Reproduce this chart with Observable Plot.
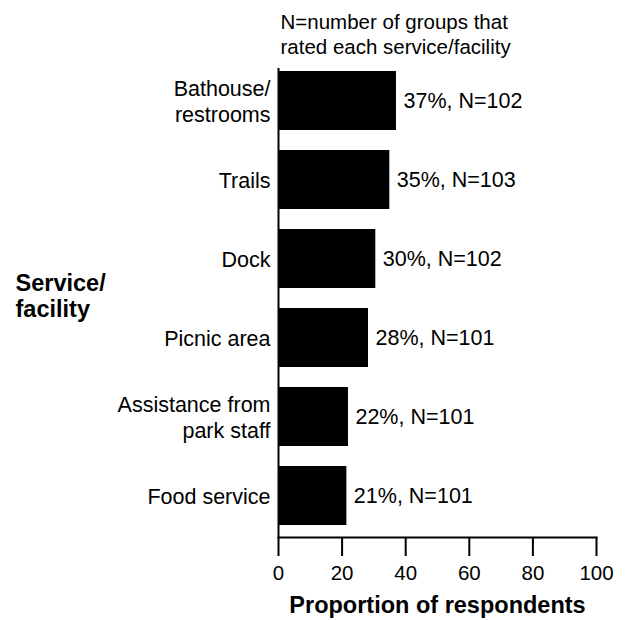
<!DOCTYPE html>
<html><head><meta charset="utf-8">
<script src="https://cdn.jsdelivr.net/npm/d3@7"></script>
<script src="https://cdn.jsdelivr.net/npm/@observablehq/plot@0.6"></script>
<style>body{margin:0;background:#fff}</style>
</head><body><div id="chart"></div>
<script>
const categories = ["Bathouse/\nrestrooms", "Trails", "Dock", "Picnic area", "Assistance from\npark staff", "Food service"];
const proportions = [37.1, 35.0, 30.6, 28.3, 22.0, 21.5];
const percentLabels = ["37%", "35%", "30%", "28%", "22%", "21%"];
const groupCounts = [102, 103, 102, 101, 101, 101];
const xTicks = [0, 20, 40, 60, 80, 100];
const noteText = "N=number of groups that\nrated each service/facility";
const yTitle = "Service/\nfacility";
const xTitle = "Proportion of respondents";

const data = categories.map((c, i) => ({
  category: c,
  value: proportions[i],
  label: `${percentLabels[i]}, N=${groupCounts[i]}`
}));

const font = 'Arial, "Liberation Sans", Helvetica, sans-serif';

const chart = Plot.plot({
  width: 625, height: 620,
  marginLeft: 278, marginRight: 29, marginTop: 59, marginBottom: 83,
  style: {fontFamily: font, fontSize: "21px", color: "#000", background: "#fff", overflow: "visible"},
  x: {domain: [0, 100]},
  y: {domain: categories, paddingInner: 0.25, paddingOuter: 0.125},
  marks: [
    Plot.barX(data, {x: "value", y: "category", fill: "#000"}),
    Plot.text(data, {x: "value", y: "category", text: "label", textAnchor: "start", dx: 7, fontSize: 21.5, fill: "#000"}),
    Plot.ruleX([0], {insetTop: 9, stroke: "#000", strokeWidth: 2}),
    Plot.frame({anchor: "bottom", stroke: "#000", strokeWidth: 2}),
    Plot.axisX({ticks: xTicks, tickSize: 19, tickPadding: 9, strokeWidth: 2, fontSize: 20.5, label: null, tickFormat: d => String(d)}),
    Plot.axisY({tickSize: 0, tickPadding: 8, fontSize: 21.5, lineHeight: 1.17, label: null}),
    Plot.text([yTitle], {text: d => d, frameAnchor: "left", dx: -263, dy: -3, textAnchor: "start", lineAnchor: "middle", fontWeight: "bold", fontSize: 23.5, lineHeight: 1.1, fill: "#000"}),
    Plot.text([noteText], {text: d => d, frameAnchor: "top-left", dx: 2, dy: -26.5, textAnchor: "start", lineAnchor: "middle", fontSize: 20.5, lineHeight: 1.22, fill: "#000"}),
    Plot.text([xTitle], {text: d => d, frameAnchor: "bottom", dy: 68, lineAnchor: "middle", fontWeight: "bold", fontSize: 23.5, fill: "#000"})
  ]
});
document.getElementById("chart").append(chart);
</script>
</body></html>
